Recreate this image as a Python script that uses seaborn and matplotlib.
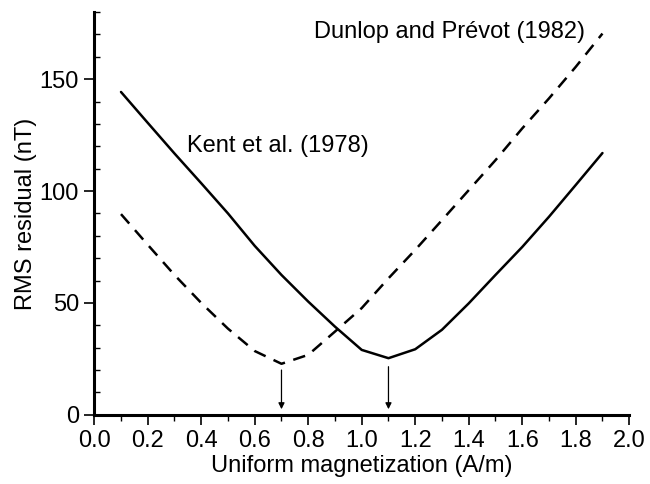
import numpy as np
import pandas as pd
import matplotlib
matplotlib.use("Agg")
import matplotlib.pyplot as plt
from matplotlib.ticker import MultipleLocator
import seaborn as sns

# magnetization values (A/m)
magnetization = [0.1, 0.2, 0.3, 0.4, 0.5, 0.6, 0.7, 0.8, 0.9, 1.0,
                 1.1, 1.2, 1.3, 1.4, 1.5, 1.6, 1.7, 1.8, 1.9]
# RMS residuals (nT)
kent_rms = [144.3, 130.5, 116.8, 103.5, 90.0, 75.5, 62.5, 50.6, 39.4, 29.0,
            25.3, 29.3, 38.0, 49.8, 62.5, 75.0, 88.5, 102.7, 117.0]
dunlop_rms = [89.7, 76.0, 62.5, 50.0, 38.5, 28.5, 22.8, 26.8, 37.2, 47.7,
              61.0, 73.7, 87.0, 100.4, 113.8, 128.0, 141.4, 155.5, 170.4]
# best fitting magnetization for each study (arrow positions)
best_fit = [0.7, 1.1]

df = pd.concat([
    pd.DataFrame({"M": magnetization, "RMS": kent_rms, "study": "Kent et al. (1978)"}),
    pd.DataFrame({"M": magnetization, "RMS": dunlop_rms, "study": "Dunlop and Prévot (1982)"}),
])

sns.set_theme(style="ticks")
plt.rcParams["font.family"] = ["Liberation Sans", "DejaVu Sans"]
plt.rcParams.update({"text.color": "black", "axes.labelcolor": "black",
                     "xtick.color": "black", "ytick.color": "black",
                     "axes.edgecolor": "black"})

fig = plt.figure(figsize=(6.5, 4.84), dpi=100)
ax = fig.add_axes([0.145, 0.143, 0.823, 0.832])

sns.lineplot(data=df, x="M", y="RMS", style="study",
             dashes={"Kent et al. (1978)": "", "Dunlop and Prévot (1982)": (5, 3.5)},
             color="black", linewidth=1.8, legend=False, ax=ax)

# arrows marking the minima
arrow_tops = [20, 21.5]
for xb, yt in zip(best_fit, arrow_tops):
    ax.annotate("", xy=(xb, 2.5), xytext=(xb, yt),
                arrowprops=dict(arrowstyle="-|>", color="black", lw=0.9,
                                mutation_scale=9, shrinkA=0, shrinkB=0))

ax.text(0.345, 120, "Kent et al. (1978)", fontsize=17, va="center", ha="left")
ax.text(0.82, 171, "Dunlop and Prévot (1982)", fontsize=17, va="center", ha="left")

ax.set_xlim(0, 2.0)
ax.set_ylim(0, 180)
ax.set_xticks(np.arange(0, 2.01, 0.2))
ax.set_xticklabels([f"{v:.1f}" for v in np.arange(0, 2.01, 0.2)])
ax.set_yticks([0, 50, 100, 150])
ax.xaxis.set_minor_locator(MultipleLocator(0.1))
ax.yaxis.set_minor_locator(MultipleLocator(10))
ax.tick_params(axis="both", which="major", labelsize=17, length=7, width=1.2, direction="out", pad=4)
ax.tick_params(axis="x", which="minor", length=4, width=1.0, direction="out")
ax.tick_params(axis="y", which="minor", length=4, width=1.0, direction="in")
ax.set_xlabel("Uniform magnetization (A/m)", fontsize=17, labelpad=2)
ax.set_ylabel("RMS residual (nT)", fontsize=17, labelpad=2)

sns.despine(ax=ax)
for side in ["left", "bottom"]:
    ax.spines[side].set_linewidth(2.2)

fig.savefig("out.png", dpi=100)
